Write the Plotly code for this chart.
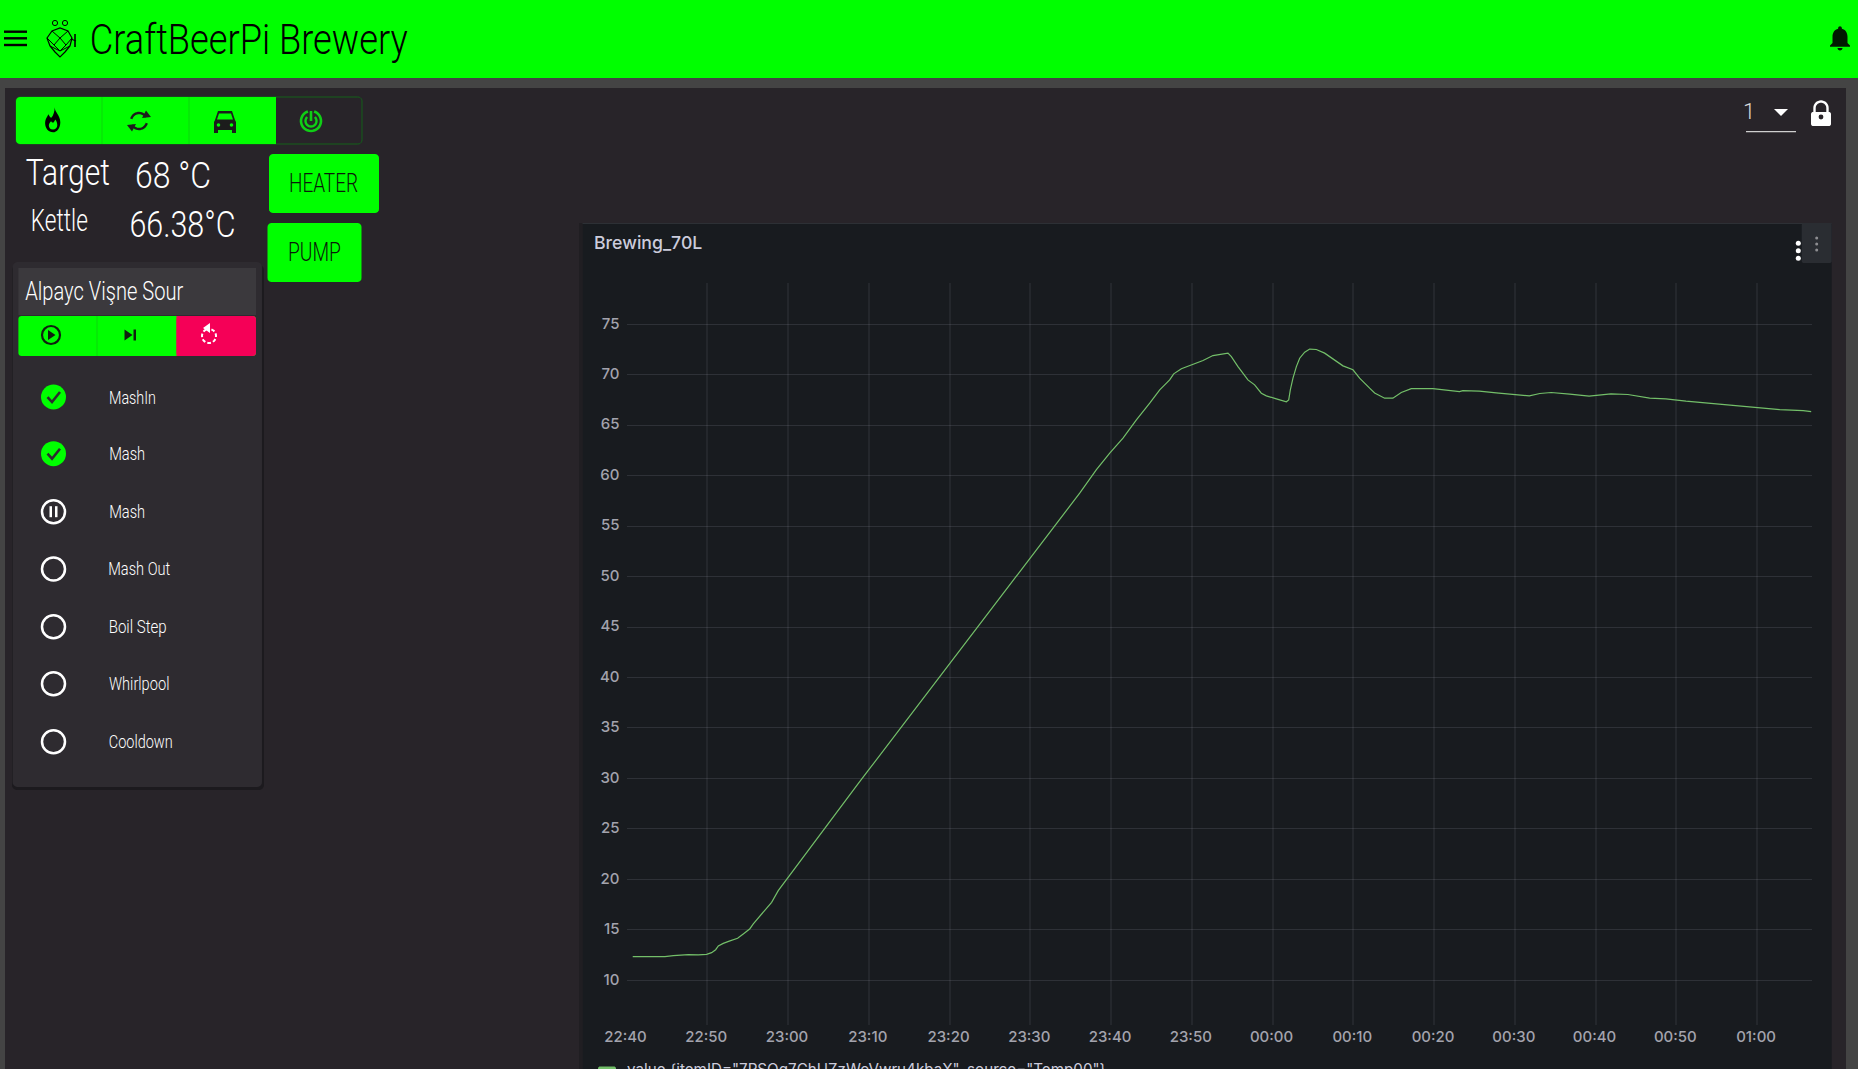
#! /usr/bin/env python3

import json
import math
from datetime import datetime, timedelta

import plotly.graph_objects as go

W = 1858
H = 1069

# minutes after 22:40
minutes = [0.77, 4.76, 5.8, 7.65, 8.89, 9.92, 10.54, 11.04, 11.37, 11.98, 12.81, 13.76, 14.46, 15.28, 15.7,
           16.52, 17.47, 17.97, 18.79, 19.78, 20.64, 21.68, 22.71, 23.74, 24.98, 26.21, 27.25, 28.69, 29.89,
           31.37, 32.61, 33.64, 35.3, 37.35, 38.8, 40.45, 42.1, 46.22, 47.87, 49.93, 52.0, 54.06, 56.12, 58.19,
           59.84, 61.48, 63.14, 64.79, 66.03, 67.26, 67.76, 68.71, 69.86, 71.39, 72.62, 74.28, 74.48, 74.9,
           75.72, 76.95, 77.78, 78.61, 79.23, 80.47, 81.71, 82.0, 82.2, 82.53, 82.95, 83.36, 83.98, 84.6,
           85.42, 86.45, 87.48, 88.72, 89.96, 90.78, 92.02, 92.64, 93.88, 94.9, 95.94, 97.18, 99.85, 101.5,
           103.16, 103.56, 105.6, 107.7, 110.2, 111.8, 113.1, 114.5, 116.8, 119.2, 121.9, 124.0, 126.7, 128.7,
           131.2, 134.5, 137.0, 139.9, 142.8, 145.7, 146.7]
temps = [12.34, 12.34, 12.44, 12.54, 12.51, 12.57, 12.74, 13.03, 13.4, 13.66, 13.9, 14.16, 14.59, 15.11, 15.58,
         16.37, 17.23, 17.73, 18.88, 19.94, 20.93, 22.02, 23.08, 24.3, 25.6, 26.85, 27.97, 29.48, 30.74,
         32.3, 33.55, 34.67, 36.41, 38.56, 40.08, 41.85, 43.6, 47.86, 49.67, 51.82, 53.96, 56.11, 58.27, 60.59,
         62.23, 63.72, 65.53, 67.18, 68.5, 69.49, 70.09, 70.59, 70.95, 71.41, 71.9, 72.14, 72.14, 71.8,
         70.81, 69.49, 69.0, 68.17, 67.91, 67.61, 67.32, 67.51, 68.5, 69.66, 70.81, 71.64, 72.24, 72.54,
         72.5, 72.14, 71.58, 70.88, 70.49, 69.66, 68.67, 68.2, 67.68, 67.68, 68.24, 68.63, 68.63, 68.5,
         68.33, 68.43, 68.37, 68.2, 68.0, 67.9, 68.14, 68.24, 68.08, 67.88, 68.1, 68.04, 67.68, 67.61,
         67.38, 67.15, 67.02, 66.75, 66.55, 66.45, 66.35]

series_name = 'value {itemID="7PSOg7ChUZzWoVwru4kbaX", source="Temp00"}'
panel_title = 'Brewing_70L'
app_title = 'CraftBeerPi Brewery'
recipe_name = 'Alpayc Vişne Sour'
step_names = ['MashIn', 'Mash', 'Mash', 'Mash Out', 'Boil Step', 'Whirlpool', 'Cooldown']
step_states = ['done', 'done', 'paused', 'idle', 'idle', 'idle', 'idle']
step_widths = [47, 36, 36, 62, 58, 60.5, 64]
target_text = '68 °C'
kettle_text = '66.38°C'

GREEN = '#00ff00'
BG = '#282429'
PANEL = '#2e2b30'
GRAF = '#181b1f'
UI_FONT = 'Roboto'

shapes = []
notes = []
fit = {}


def px(x, y):
    return x / W, 1 - y / H


def to_path(pts, close=True):
    s = ''
    for i, (x, y) in enumerate(pts):
        a, b = px(x, y)
        s += ('M' if i == 0 else 'L') + f'{a:.5f},{b:.5f} '
    return s + ('Z' if close else '')


def rect(x0, y0, x1, y1, fill, r=0, line=None):
    if r == 0:
        a0, b0 = px(x0, y0)
        a1, b1 = px(x1, y1)
        shapes.append(dict(type='rect', xref='paper', yref='paper', x0=a0, x1=a1, y0=b1, y1=b0,
                           fillcolor=fill, line=dict(width=0), layer='below'))
        return
    pts = []
    for cx, cy, start in [(x1 - r, y0 + r, -90), (x1 - r, y1 - r, 0), (x0 + r, y1 - r, 90), (x0 + r, y0 + r, 180)]:
        for k in range(6):
            t = math.radians(start + k * 18)
            pts.append((cx + r * math.cos(t), cy + r * math.sin(t)))
    shapes.append(dict(type='path', xref='paper', yref='paper', path=to_path(pts), fillcolor=fill,
                       line=dict(width=1, color=line) if line else dict(width=0), layer='below'))


def poly(pts, fill=None, line=None, width=2, close=True):
    shapes.append(dict(type='path', xref='paper', yref='paper', path=to_path(pts, close),
                       fillcolor=fill if fill else 'rgba(0,0,0,0)',
                       line=dict(width=width, color=line) if line else dict(width=0), layer='below'))


def ring(cx, cy, r, fill=None, line=None, width=2.5):
    a0, b0 = px(cx - r, cy - r)
    a1, b1 = px(cx + r, cy + r)
    shapes.append(dict(type='circle', xref='paper', yref='paper', x0=a0, x1=a1, y0=b1, y1=b0,
                       fillcolor=fill if fill else 'rgba(0,0,0,0)',
                       line=dict(width=width, color=line) if line else dict(width=0), layer='below'))


def arc(cx, cy, r, a0, a1, n=16):
    return [(cx + r * math.cos(math.radians(a0 + (a1 - a0) * k / n)),
             cy + r * math.sin(math.radians(a0 + (a1 - a0) * k / n))) for k in range(n + 1)]


def text(x, y, s, size, color='white', family=UI_FONT, weight=300, width=None):
    # with a width the text is squeezed to it, the thin UI font is far narrower than Roboto
    if width:
        fit[s] = width
        x = x + width / 2
    a, b = px(x, y)
    notes.append(dict(x=a, y=b, xref='paper', yref='paper', text=s, showarrow=False,
                      xanchor='center' if width else 'left', yanchor='middle', borderpad=0,
                      font=dict(family=family, size=size, color=color, weight=weight)))


def curve(d, cx, cy, s, fill):
    # d is M/L/C/Z on a 24 box, absolute only
    f = s / 24
    out = ''
    for tok in d.split():
        if tok[0] in 'MLCZ':
            out += tok[0]
            tok = tok[1:]
        if tok:
            x, y = tok.split(',')
            a, b = px(cx + (float(x) - 12) * f, cy + (float(y) - 12) * f)
            out += f'{a:.5f},{b:.5f} '
    shapes.append(dict(type='path', xref='paper', yref='paper', path=out, fillcolor=fill,
                       line=dict(width=0), layer='below'))


# page
rect(0, 0, W, H, '#444444')
rect(5, 88, 1846, H, BG)
rect(0, 0, W, 78, GREEN)

# header
for y in [31.7, 38.3, 45]:
    rect(4, y - 1.2, 27, y + 1.2, '#000000')
ring(55, 23, 2.6, line='#000000', width=1)
ring(65, 23, 2.6, line='#000000', width=1)
poly([(47, 38), (52, 31), (60, 28), (68, 31), (72, 38), (70, 46), (65, 52), (60, 57), (55, 52), (50, 46)], line='#000000', width=1.2)
for a, b in [((52, 31), (60, 38)), ((68, 31), (60, 38)), ((47, 38), (54, 45)), ((72, 38), (66, 45)), ((60, 38), (54, 45)),
             ((60, 38), (66, 45)), ((50, 46), (60, 51)), ((70, 46), (60, 51)), ((54, 45), (60, 51)), ((66, 45), (60, 51))]:
    poly([a, b], line='#000000', width=1, close=False)
poly([(71, 39), (76, 41)], line='#000000', width=1.2, close=False)
poly([(75, 34), (75, 47)], line='#000000', width=1.6, close=False)
text(89.5, 39, app_title, 43, color='#000000', width=318)
curve('M12,22 C13.1,22 14,21.1 14,20 L10,20 C10,21.1 10.89,22 12,22 Z M18,16 L18,11 C18,7.93 16.36,5.36 13.5,4.68 L13.5,4 '
      'C13.5,3.17 12.83,2.5 12,2.5 C11.17,2.5 10.5,3.17 10.5,4 L10.5,4.68 C7.63,5.36 6,7.92 6,11 L6,16 L4,18 L4,19 L20,19 L20,18 Z',
      1840, 38, 30, '#001a00')

# kettle button group
rect(16, 97, 362, 144, BG, r=4, line='#14601a')
rect(16, 97, 276, 144, GREEN, r=4)
rect(270, 97, 276, 144, GREEN)
rect(101.5, 97, 102.5, 144, '#0cd80c')
rect(188.5, 97, 189.5, 144, '#0cd80c')
# flame
curve('M13.5,0.7 C13.5,5 18.5,8 18.5,14 C18.5,19 15.5,23 12,23 C8,23 5,19.5 5,15 C5,11 7,9 8,7 C9,9 9.5,10 10.5,10 C12.5,8 13.5,4 13.5,0.7 Z',
      53, 120, 27, '#000000')
curve('M12,20.5 C9.8,20.5 8.3,18.8 8.3,16.8 C8.3,15 9.5,14 10.3,13 C11,14 11.5,14.3 12.5,14.3 C13.2,13.3 13.6,12.5 14,11.5 C15.3,13 15.8,15 15.8,16.6 C15.8,18.8 14.2,20.5 12,20.5 Z',
      53, 120, 27, GREEN)
# sync
poly(arc(139, 121, 8, 195, 330), line='#1c1c1c', width=2.4, close=False)
poly(arc(139, 121, 8, 15, 150), line='#1c1c1c', width=2.4, close=False)
poly([(146, 110.5), (151, 117), (142, 118)], fill='#1c1c1c')
poly([(132, 131.5), (127, 125), (136, 124)], fill='#1c1c1c')
# car
poly([(218, 111), (232, 111), (235, 120), (236, 122), (236, 133), (232, 133), (232, 130), (218, 130), (218, 133), (214, 133), (214, 122), (215, 120)], fill='#1c1c1c')
poly([(219, 113.5), (231, 113.5), (233, 119.5), (217, 119.5)], fill=GREEN)
ring(218.5, 125, 1.8, fill=GREEN)
ring(231.5, 125, 1.8, fill=GREEN)
# power
poly(arc(311, 121, 10, -72, 252, n=30), line='#0fcf15', width=2.6, close=False)
poly(arc(311, 121, 5.5, -45, 225, n=24), line='#0fcf15', width=2.4, close=False)
poly([(311, 111), (311, 121)], line='#0fcf15', width=2.6, close=False)

# readouts and actor buttons
text(26, 172, 'Target', 37, width=84)
text(135, 175, target_text, 37, width=76)
text(31, 220, 'Kettle', 32, width=57)
text(129, 224, kettle_text, 37, width=106)
rect(269, 154, 379, 213, GREEN, r=4)
rect(267.5, 223, 361.5, 282, GREEN, r=4)
text(289, 183, 'HEATER', 25, color='#0a1a0a', width=69)
text(288, 252, 'PUMP', 25, color='#0a1a0a', width=53)

# steps panel
rect(12, 265, 264, 790, '#1c1a1e', r=5)
rect(12.6, 262, 262, 787, PANEL, r=5)
rect(18.4, 268, 256, 315, '#3b393d')
text(25, 291.5, recipe_name, 25, width=158)
rect(18.4, 316, 256, 356, GREEN, r=3)
rect(176.5, 316, 256, 356, '#f50057', r=3)
rect(176.5, 316, 182, 356, '#f50057')
rect(96.5, 316, 97.5, 356, '#0cd80c')
ring(51, 335, 9, line='#10200f', width=2.2)
poly([(48, 330), (48, 340), (55.5, 335)], fill='#10200f')
poly([(124.5, 329.5), (124.5, 340.5), (132.5, 335)], fill='#10200f')
rect(133.5, 329.5, 136, 340.5, '#10200f')
for a in range(-70, 230, 48):
    poly(arc(209, 336, 7, a, a + 30, n=4), line='white', width=2, close=False)
poly([(210, 323), (210, 333), (203, 328)], fill='white')

step_y = [397, 453.7, 511.7, 569, 626.7, 683.7, 741.7]
for name, state, w, y in zip(step_names, step_states, step_widths, step_y):
    if state == 'done':
        ring(53.5, y, 12.5, fill=GREEN)
        poly([(47.5, y), (52, y + 5), (60, y - 5)], line=PANEL, width=2.6, close=False)
    else:
        ring(53.5, y, 11.5, line='white', width=2.5)
    if state == 'paused':
        rect(49.5, y - 5.5, 52, y + 5.5, 'white')
        rect(55, y - 5.5, 57.5, y + 5.5, 'white')
    text(108.5, y, name, 18, width=w)

# top right controls
text(1742, 111, '1', 22, color='#d8d8d8')
poly([(1774, 109), (1788, 109), (1781, 116)], fill='white')
rect(1746, 131, 1796, 132.2, '#cfcfcf')
rect(1811, 112, 1831, 126, 'white', r=2)
poly(arc(1821, 108, 6.5, 180, 360), line='white', width=2.4, close=False)
poly([(1814.5, 108), (1814.5, 113)], line='white', width=2.4, close=False)
poly([(1827.5, 108), (1827.5, 113)], line='white', width=2.4, close=False)
ring(1821, 117, 2.4, fill=BG)

# grafana panel
rect(579, 223, 582.5, H, '#201e22')
rect(582.5, 223, 1831.7, H, GRAF)
rect(582.5, 223, 1831.7, 224, '#2d3035')
text(593, 243, panel_title, 17.7, color='#ccccdc', family='Inter', weight=500)
rect(1801.7, 223, 1831.7, 263, '#2a2d32', r=2)
for y in [238, 244, 250]:
    ring(1816.7, y, 1.5, fill='#8e8e92')
for y in [243.3, 250.7, 258.3]:
    ring(1798.3, y, 2.5, fill='white')
rect(598, 1066.5, 616, 1075, '#73bf69', r=2)
text(626, 1069.5, series_name, 15.2, color='#ccccdc', family='Inter', weight=400)

start = datetime(2023, 1, 1, 22, 40)
times = [start + timedelta(minutes=m) for m in minutes]

fig = go.Figure()
fig.add_trace(go.Scatter(x=times, y=temps, mode='lines', name=series_name, showlegend=False,
                         line=dict(color='#73bf69', width=1.2)))
fig.update_xaxes(domain=[626.5 / W, 1812 / W], range=[start, start + timedelta(minutes=146.8)], automargin=False,
                 tick0=start, dtick=600000, tickformat='%H:%M', showline=False, ticks='', ticklabelstandoff=1,
                 ticklabelshift=-1, gridcolor='rgba(204,204,220,0.07)', gridwidth=1.5, zeroline=False,
                 tickfont=dict(family='Inter', size=15, color='#a3a3ad', weight=500))
fig.update_yaxes(domain=[1 - 1025 / H, 1 - 283 / H], range=[5.57, 79.09], tick0=10, dtick=5, automargin=False,
                 showline=False, ticks='', ticklabelstandoff=6, ticklabelshift=-1,
                 gridcolor='rgba(204,204,220,0.13)', gridwidth=1,
                 zeroline=False, tickfont=dict(family='Inter', size=15, color='#a3a3ad', weight=500))
fig.update_layout(width=W, height=H, margin=dict(l=0, r=0, t=0, b=0), autosize=False,
                  paper_bgcolor=BG, plot_bgcolor='rgba(0,0,0,0)', shapes=shapes, annotations=notes)

squeeze = """
document.body.style.margin = '0';
document.body.style.overflow = 'hidden';
var fit = %s;
function squeeze() {
    document.querySelectorAll('text.annotation-text').forEach(function (t) {
        var w = fit[t.textContent];
        if (w) {
            t.setAttribute('textLength', w);
            t.setAttribute('lengthAdjust', 'spacingAndGlyphs');
        }
    });
}
squeeze();
setTimeout(squeeze, 100);
""" % json.dumps(fit)

fig.write_html("out.html", config={'displayModeBar': False}, post_script=squeeze)
